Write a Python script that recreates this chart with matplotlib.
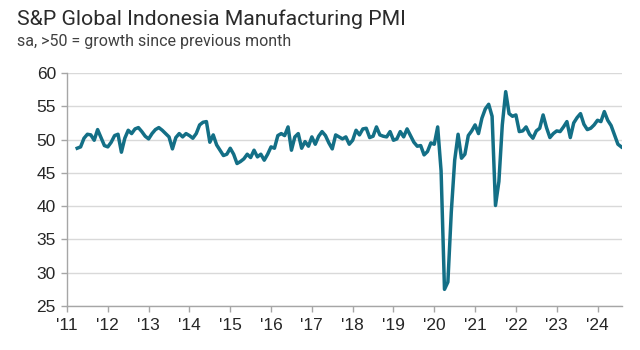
import matplotlib
matplotlib.use("Agg")
import matplotlib.pyplot as plt
import numpy as np

# Monthly PMI values, Apr 2011 - Aug 2024
start_year, start_month = 2011, 4
pmi_2011 = [48.7, 48.9, 50.2, 50.8, 50.7, 49.9, 51.5, 50.3, 49.1]
pmi_2012 = [48.9, 49.6, 50.6, 50.8, 48.1, 50.2, 51.4, 50.9, 51.6, 51.8, 51.2, 50.5]
pmi_2013 = [50.1, 50.9, 51.5, 51.8, 51.4, 50.9, 50.4, 48.6, 50.3, 50.9, 50.4, 50.9]
pmi_2014 = [50.6, 50.2, 50.9, 52.2, 52.6, 52.7, 49.6, 50.7, 49.2, 48.4, 47.6, 47.8]
pmi_2015 = [48.7, 47.8, 46.4, 46.7, 47.1, 47.8, 47.3, 48.4, 47.4, 47.8, 46.9, 47.8]
pmi_2016 = [48.9, 48.7, 50.6, 50.9, 50.6, 51.9, 48.4, 50.4, 50.9, 48.7, 49.7, 49.0]
pmi_2017 = [50.4, 49.3, 50.5, 51.2, 50.6, 49.5, 48.6, 50.7, 50.4, 50.1, 50.4, 49.3]
pmi_2018 = [49.9, 51.4, 50.7, 51.6, 51.7, 50.3, 50.5, 51.9, 50.7, 50.5, 50.4, 51.2]
pmi_2019 = [49.9, 50.1, 51.2, 50.4, 51.6, 50.6, 49.6, 49.0, 49.1, 47.7, 48.2, 49.5]
pmi_2020 = [49.3, 51.9, 45.3, 27.5, 28.6, 39.1, 46.9, 50.8, 47.2, 47.8, 50.6, 51.3]
pmi_2021 = [52.2, 50.9, 53.2, 54.6, 55.3, 53.5, 40.1, 43.7, 52.2, 57.2, 53.9, 53.5]
pmi_2022 = [53.7, 51.2, 51.3, 51.9, 50.8, 50.2, 51.3, 51.7, 53.7, 51.8, 50.3, 50.9]
pmi_2023 = [51.3, 51.2, 51.9, 52.7, 50.3, 52.5, 53.3, 53.9, 52.3, 51.5, 51.7, 52.2]
pmi_2024 = [52.9, 52.7, 54.2, 52.9, 52.1, 50.7, 49.3, 48.9]

pmi = (pmi_2011 + pmi_2012 + pmi_2013 + pmi_2014 + pmi_2015 + pmi_2016 + pmi_2017
       + pmi_2018 + pmi_2019 + pmi_2020 + pmi_2021 + pmi_2022 + pmi_2023 + pmi_2024)

year_ticks = list(range(2011, 2025))
year_labels = ["'" + str(y)[2:] for y in year_ticks]
y_ticks = [25, 30, 35, 40, 45, 50, 55, 60]

x = start_year + (start_month - 1 + np.arange(len(pmi))) / 12.0

plt.rcParams['font.family'] = ['Liberation Sans', 'DejaVu Sans']

fig = plt.figure(figsize=(6.4, 3.5), dpi=100)
ax = fig.add_axes([67/640, 1-306/350, (622-67)/640, (306-73)/350])

ax.plot(x, pmi, color='#136f86', lw=2.5, solid_joinstyle='round', zorder=3)

ax.set_ylim(25, 60)
ax.set_xlim(2011, 2011 + 163.2/12)
ax.set_yticks(y_ticks)
ax.set_xticks(year_ticks)
ax.set_xticklabels(year_labels)
ax.grid(axis='y', color='#d9d9d9', lw=1.0, zorder=0)
ax.set_axisbelow(True)
for s in ['top', 'right']:
    ax.spines[s].set_visible(False)
for s in ['left', 'bottom']:
    ax.spines[s].set_color('#a6a6a6')
    ax.spines[s].set_linewidth(1.0)
ax.tick_params(axis='both', colors='#a6a6a6', labelcolor='#262626', labelsize=12.5,
               length=4, width=1.0)
ax.tick_params(axis='x', pad=5)
ax.tick_params(axis='y', pad=4)

fig.text(17/640, 1-25/350, "S&P Global Indonesia Manufacturing PMI", fontsize=15.3,
         color='#2b2b2b', va='baseline', ha='left', family=['Roboto', 'DejaVu Sans'])
fig.text(17/640, 1-46/350, "sa, >50 = growth since previous month", fontsize=11.5,
         color='#404040', va='baseline', ha='left', family=['Roboto', 'DejaVu Sans'])

fig.savefig("out.png", dpi=100, facecolor='white')
